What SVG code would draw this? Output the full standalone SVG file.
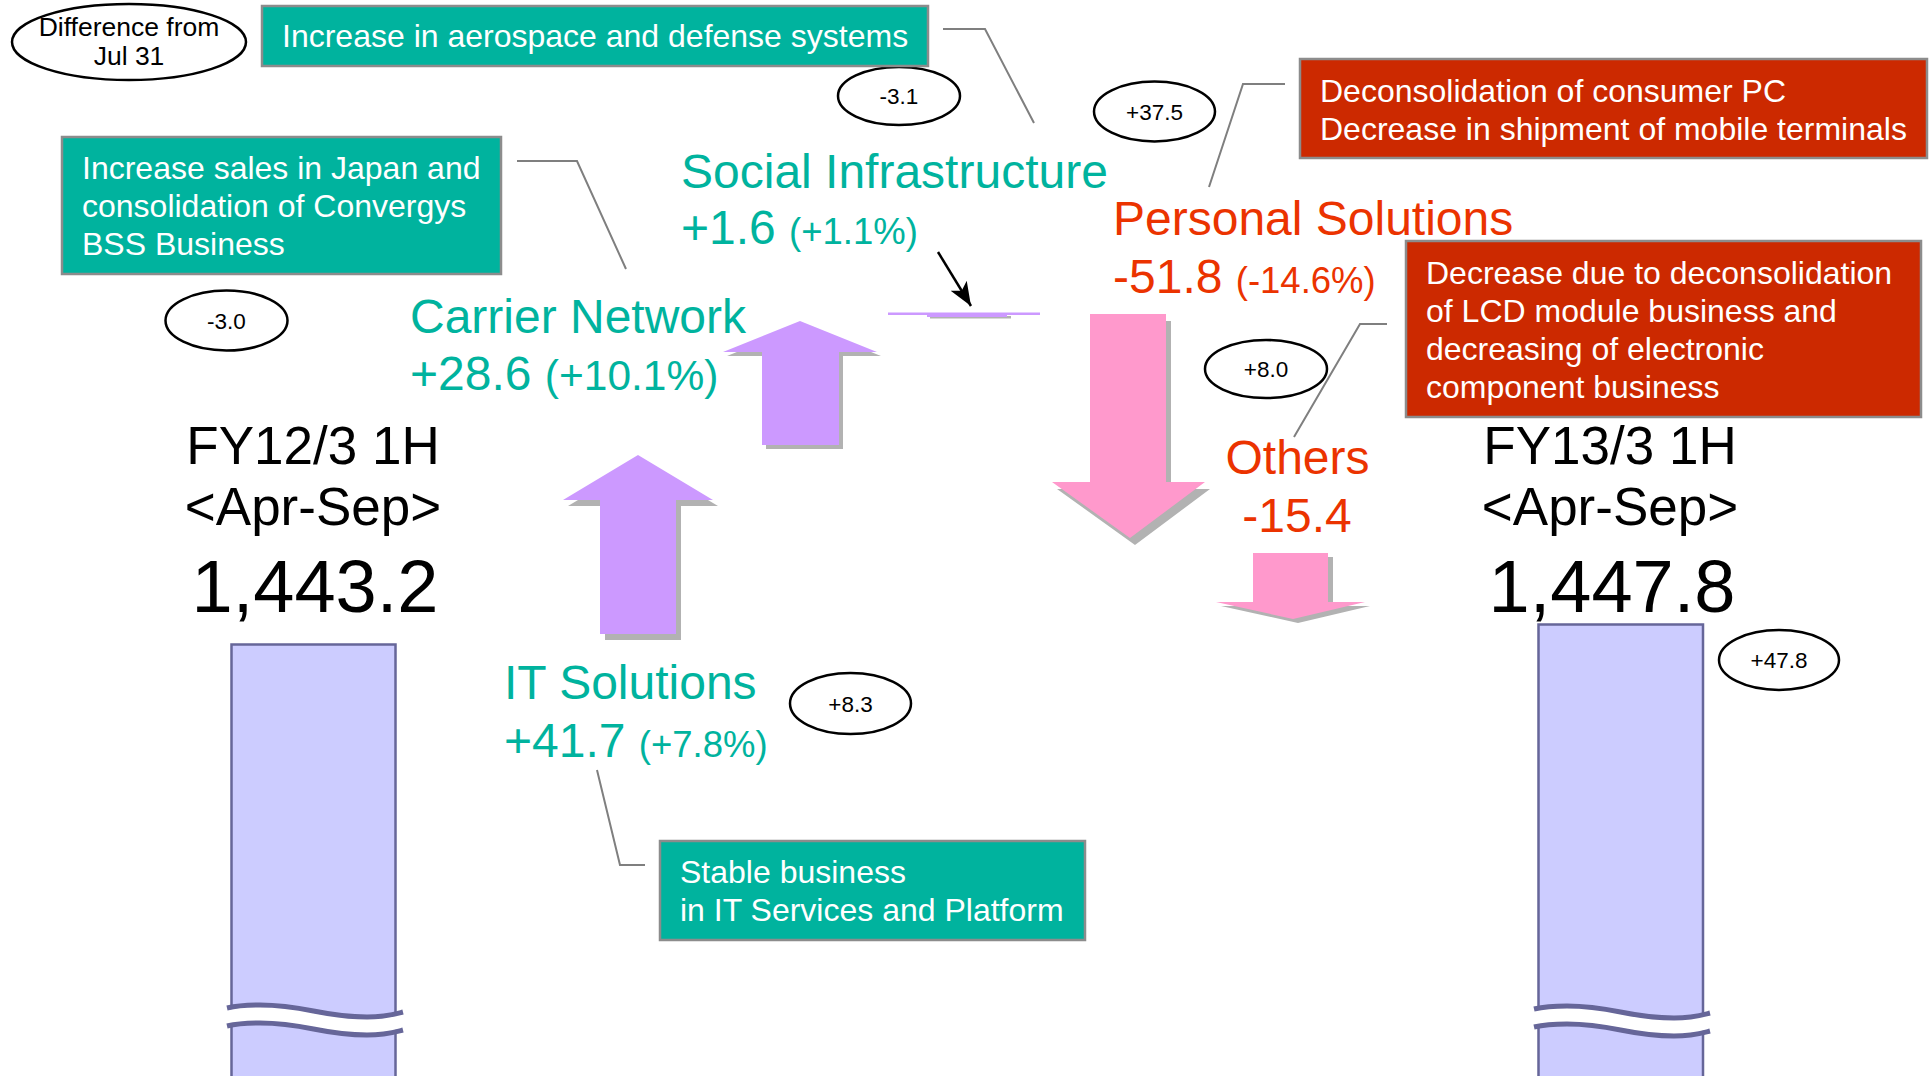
<svg xmlns="http://www.w3.org/2000/svg" width="1929" height="1076" viewBox="0 0 1929 1076">
  <defs>
    <style>
      text { font-family: "Liberation Sans", Arial, sans-serif; }
      .oval { fill: #fff; stroke: #000; stroke-width: 2.5; }
      .ovt { font-size: 22.5px; fill: #000; text-anchor: middle; }
      .gbox { fill: #00B39E; stroke: #8C8C8C; stroke-width: 2.5; }
      .rbox { fill: #CC2900; stroke: #8C8C8C; stroke-width: 2.5; }
      .btxt { font-size: 32px; fill: #fff; }
      .seg { font-size: 48px; }
      .pct { font-size: 36.5px; }
      .teal { fill: #00B39E; }
      .red { fill: #EB3300; }
      .lead { fill: none; stroke: #7F7F7F; stroke-width: 2; }
      .up { fill: #CC99FF; }
      .down { fill: #FF99CC; }
      .shadow { fill: #B2B2B2; }
      .bar { fill: #CCCCFF; stroke: #666699; stroke-width: 2.5; }
      .brk-gap { fill: none; stroke: #fff; stroke-width: 14; }
      .brk { fill: none; stroke: #666699; stroke-width: 5; }
      .total { font-size: 53px; fill: #000; text-anchor: middle; }
      .big { font-size: 74px; fill: #000; text-anchor: middle; }
    </style>
    <marker id="tip" viewBox="0 0 20 16" refX="20" refY="8" markerWidth="24" markerHeight="19" markerUnits="userSpaceOnUse" orient="auto">
      <path d="M0,0 L20,8 L0,16 L5,8 z" fill="#000"/>
    </marker>
    <!-- wavy cut mark for the truncated bars -->
    <g id="cut">
      <path class="brk-gap" d="M227,1017 C240,1014 248,1014 260,1014 C307,1014 320,1026 367,1026 C385,1026 395,1023 403,1021"/>
      <path class="brk" d="M227,1008 C240,1005 248,1005 260,1005 C307,1005 320,1017 367,1017 C385,1017 395,1014 403,1012"/>
      <path class="brk" d="M227,1026 C240,1023 248,1023 260,1023 C307,1023 320,1035 367,1035 C385,1035 395,1032 403,1030"/>
    </g>
  </defs>

  <rect width="1929" height="1076" fill="#fff"/>

  <!-- leader lines and pointer -->
  <g id="connectors">
    <polyline class="lead" points="943,29 985,29 1034,123"/>
    <polyline class="lead" points="517,161 577,161 626,269"/>
    <polyline class="lead" points="597,770 620,865 645,865"/>
    <polyline class="lead" points="1209,187 1243,84 1285,84"/>
    <polyline class="lead" points="1294,437 1360,324 1387,324"/>
    <line x1="938" y1="252" x2="971" y2="306" stroke="#000" stroke-width="2.5" marker-end="url(#tip)"/>
  </g>

  <!-- legend oval -->
  <g id="legend">
    <ellipse class="oval" cx="129" cy="42" rx="117" ry="38"/>
    <text x="129" y="36" font-size="26.5" text-anchor="middle">Difference from</text>
    <text x="129" y="65" font-size="26.5" text-anchor="middle">Jul 31</text>
  </g>

  <!-- start total -->
  <g id="fy12">
    <rect class="bar" x="231.5" y="644.5" width="164" height="440"/>
    <use href="#cut"/>
    <text class="total" x="313" y="464">FY12/3 1H</text>
    <text class="total" x="313" y="525">&lt;Apr-Sep&gt;</text>
    <text class="big" x="315" y="612">1,443.2</text>
  </g>

  <!-- end total -->
  <g id="fy13">
    <rect class="bar" x="1538.5" y="624.5" width="164.5" height="460"/>
    <use href="#cut" transform="translate(1307,1)"/>
    <text class="total" x="1610" y="464">FY13/3 1H</text>
    <text class="total" x="1610" y="525">&lt;Apr-Sep&gt;</text>
    <text class="big" x="1612" y="612">1,447.8</text>
    <ellipse class="oval" cx="1779" cy="660" rx="60" ry="30"/>
    <text class="ovt" x="1779" y="668">+47.8</text>
  </g>

  <!-- IT Solutions -->
  <g id="it-solutions">
    <polygon class="shadow" transform="translate(5,6)" points="638,455 713,500 676,500 676,634 600,634 600,500 563,500"/>
    <polygon class="up" points="638,455 713,500 676,500 676,634 600,634 600,500 563,500"/>
    <text class="seg teal" x="504" y="699">IT Solutions</text>
    <text class="seg teal" x="504" y="757">+41.7 <tspan class="pct">(+7.8%)</tspan></text>
    <ellipse class="oval" cx="850.5" cy="703.5" rx="60.5" ry="30.5"/>
    <text class="ovt" x="850.5" y="711.5">+8.3</text>
  </g>
  <g id="note-it">
    <rect class="gbox" x="660" y="841" width="425" height="99"/>
    <text class="btxt" x="680" y="882.5">Stable business</text>
    <text class="btxt" x="680" y="920.5">in IT Services and Platform</text>
  </g>

  <!-- Carrier Network -->
  <g id="carrier-network">
    <polygon class="shadow" transform="translate(4,4)" points="800,321 877,352 839,352 839,445 762,445 762,352 723,352"/>
    <polygon class="up" points="800,321 877,352 839,352 839,445 762,445 762,352 723,352"/>
    <text class="seg teal" x="410" y="333">Carrier Network</text>
    <text class="seg teal" x="410" y="390">+28.6 <tspan font-size="42.5">(+10.1%)</tspan></text>
    <ellipse class="oval" cx="226.5" cy="320.5" rx="61" ry="30"/>
    <text class="ovt" x="226.5" y="328.5">-3.0</text>
  </g>
  <g id="note-carrier">
    <rect class="gbox" x="62" y="137" width="439" height="137"/>
    <text class="btxt" x="82" y="179">Increase sales in Japan and</text>
    <text class="btxt" x="82" y="217">consolidation of Convergys</text>
    <text class="btxt" x="82" y="255">BSS Business</text>
  </g>

  <!-- Social Infrastructure -->
  <g id="social-infrastructure">
    <rect class="shadow" x="930" y="316" width="81" height="2.5"/>
    <rect class="up" x="888" y="312.5" width="152" height="2.5"/>
    <rect class="up" x="927" y="314" width="80" height="3"/>
    <text class="seg teal" x="681" y="187.5">Social Infrastructure</text>
    <text class="seg teal" x="681" y="244">+1.6 <tspan class="pct">(+1.1%)</tspan></text>
    <ellipse class="oval" cx="899" cy="96" rx="61" ry="29"/>
    <text class="ovt" x="899" y="104">-3.1</text>
  </g>
  <g id="note-social">
    <rect class="gbox" x="262" y="6" width="666" height="60"/>
    <text class="btxt" x="282" y="47">Increase in aerospace and defense systems</text>
  </g>

  <!-- Personal Solutions -->
  <g id="personal-solutions">
    <polygon class="shadow" transform="translate(5,7)" points="1090,314 1166,314 1166,482 1205,482 1130,538 1052,482 1090,482"/>
    <polygon class="down" points="1090,314 1166,314 1166,482 1205,482 1130,538 1052,482 1090,482"/>
    <text class="seg red" x="1113" y="235">Personal Solutions</text>
    <text class="seg red" x="1113" y="293">-51.8 <tspan class="pct">(-14.6%)</tspan></text>
    <ellipse class="oval" cx="1154.5" cy="111.5" rx="60.5" ry="30"/>
    <text class="ovt" x="1154.5" y="119.5">+37.5</text>
  </g>
  <g id="note-personal">
    <rect class="rbox" x="1300" y="59" width="627" height="99"/>
    <text class="btxt" x="1320" y="102">Deconsolidation of consumer PC</text>
    <text class="btxt" x="1320" y="140">Decrease in shipment of mobile terminals</text>
  </g>

  <!-- Others -->
  <g id="others">
    <polygon class="shadow" transform="translate(5,4)" points="1253,553 1328,553 1328,602 1365,602 1293,619 1216,602 1253,602"/>
    <polygon class="down" points="1253,553 1328,553 1328,602 1365,602 1293,619 1216,602 1253,602"/>
    <text class="seg red" x="1297.5" y="474" text-anchor="middle">Others</text>
    <text class="seg red" x="1297" y="532" text-anchor="middle">-15.4</text>
    <ellipse class="oval" cx="1266" cy="369" rx="61" ry="29"/>
    <text class="ovt" x="1266" y="377">+8.0</text>
  </g>
  <g id="note-others">
    <rect class="rbox" x="1406" y="241" width="515" height="176"/>
    <text class="btxt" x="1426" y="284">Decrease due to deconsolidation</text>
    <text class="btxt" x="1426" y="322">of LCD module business and</text>
    <text class="btxt" x="1426" y="360">decreasing of electronic</text>
    <text class="btxt" x="1426" y="398">component business</text>
  </g>
</svg>
